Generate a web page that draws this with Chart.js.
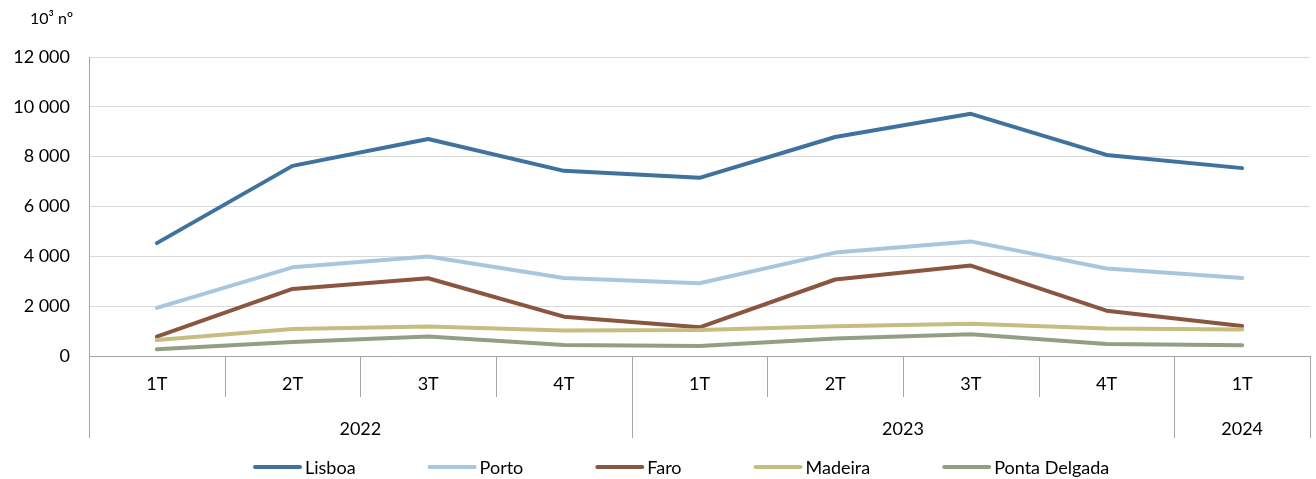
<!DOCTYPE html>
<html>
<head>
<meta charset="utf-8">
<script src="https://cdn.jsdelivr.net/npm/chart.js@4/dist/chart.umd.min.js"></script>
<style>
html,body{margin:0;padding:0;background:#fff;}
#wrap{position:relative;width:1316px;height:479px;}
</style>
</head>
<body>
<div id="wrap"><canvas id="c" width="1316" height="479"></canvas></div>
<script>
const quarters = ['1T','2T','3T','4T','1T','2T','3T','4T','1T'];
const years = ['2022','2023','2024'];
const yearSpans = [4,4,1];
const yTicks = [0,2000,4000,6000,8000,10000,12000];
const unitLabel = '10³ nº';

const lisboa = [4530,7630,8710,7430,7150,8790,9720,8070,7540];
const porto = [1930,3560,3990,3130,2920,4150,4600,3510,3130];
const faro = [780,2690,3120,1580,1150,3070,3630,1820,1200];
const madeira = [640,1080,1180,1020,1040,1190,1290,1100,1060];
const pontaDelgada = [270,560,780,440,400,700,870,480,430];

const seriesNames = ['Lisboa','Porto','Faro','Madeira','Ponta Delgada'];
const seriesData = [lisboa, porto, faro, madeira, pontaDelgada];
const seriesColors = ['#3F729E','#A8C7DE','#8A5640','#C6BE80','#939F85'];

const FONT = 'Lato, "Open Sans", sans-serif';

function fmt(v){ return String(v).replace(/\B(?=(\d{3})+(?!\d))/g,' '); }

const axisPlugin = {
  id:'axisExtras',
  afterDraw(chart){
    const ctx = chart.ctx;
    const x = chart.scales.x;
    const area = chart.chartArea;
    const top = area.bottom;
    const n = quarters.length;
    const boundary = i => {
      if (i <= 0) return area.left;
      if (i >= n) return area.right;
      return (x.getPixelForValue(i-1) + x.getPixelForValue(i)) / 2;
    };
    ctx.save();
    ctx.strokeStyle = '#A6A6A6';
    ctx.lineWidth = 1;
    for (let i = 1; i < n; i++) {
      const bx = Math.round(boundary(i)) + 0.5;
      ctx.beginPath(); ctx.moveTo(bx, top); ctx.lineTo(bx, top + 41); ctx.stroke();
    }
    let start = 0;
    const yb = [0];
    yearSpans.forEach(s => { start += s; yb.push(start); });
    yb.forEach(i => {
      const bx = Math.round(boundary(i)) + 0.5;
      ctx.beginPath(); ctx.moveTo(bx, top); ctx.lineTo(bx, top + 82); ctx.stroke();
    });
    ctx.fillStyle = '#000';
    ctx.font = '18px ' + FONT;
    ctx.textAlign = 'center';
    ctx.textBaseline = 'middle';
    years.forEach((yr, k) => {
      const cx = (boundary(yb[k]) + boundary(yb[k+1])) / 2;
      ctx.fillText(yr, cx, top + 73);
    });
    ctx.textAlign = 'left';
    ctx.textBaseline = 'alphabetic';
    ctx.font = '16px ' + FONT;
    ctx.fillText(unitLabel, 30, 24);
    // legend
    ctx.font = '18px ' + FONT;
    const lineW = 49, gapT = 3, gapItem = 72;
    let lx = 253;
    const ly = 467;
    chart.data.datasets.forEach((d, k) => {
      ctx.strokeStyle = d.borderColor;
      ctx.lineWidth = 4;
      ctx.lineCap = 'round';
      ctx.beginPath(); ctx.moveTo(lx + 2, ly); ctx.lineTo(lx + lineW - 2, ly); ctx.stroke();
      ctx.fillStyle = '#000';
      ctx.textBaseline = 'middle';
      const tw = ctx.measureText(d.label).width;
      ctx.fillText(d.label, lx + lineW + gapT, ly + 1);
      lx += lineW + gapT + tw + gapItem;
    });
    ctx.restore();
  }
};

new Chart(document.getElementById('c'), {
  type:'line',
  data:{
    labels: quarters,
    datasets: seriesNames.map((name, i) => ({
      label: name,
      data: seriesData[i],
      borderColor: seriesColors[i],
      backgroundColor: seriesColors[i],
      borderWidth: 4,
      pointRadius: 0,
      pointHoverRadius: 0,
      tension: 0,
      borderCapStyle: 'round',
      borderJoinStyle: 'round',
      order: seriesNames.length - i
    }))
  },
  options:{
    responsive:false,
    animation:false,
    events:[],
    layout:{ padding:{ top:57, left:0, right:6, bottom:41 } },
    plugins:{ legend:{ display:false }, tooltip:{ enabled:false } },
    scales:{
      x:{
        offset:true,
        grid:{ display:false },
        border:{ display:true, color:'#A6A6A6', width:1 },
        ticks:{ color:'#000', font:{ family:FONT, size:18 }, padding:9, maxRotation:0, autoSkip:false },
        afterFit(scale){ scale.height = 82; }
      },
      y:{
        min:0, max:12000,
        afterBuildTicks(scale){ scale.ticks = yTicks.map(v => ({ value:v })); },
        grid:{ color:'#D9D9D9', lineWidth:1, drawTicks:false },
        border:{ display:true, color:'#A6A6A6', width:1 },
        ticks:{ color:'#000', font:{ family:FONT, size:18 }, padding:19, callback:v => fmt(v) },
        afterFit(scale){ scale.width = 89; }
      }
    }
  },
  plugins:[axisPlugin]
});
</script>
</body>
</html>
